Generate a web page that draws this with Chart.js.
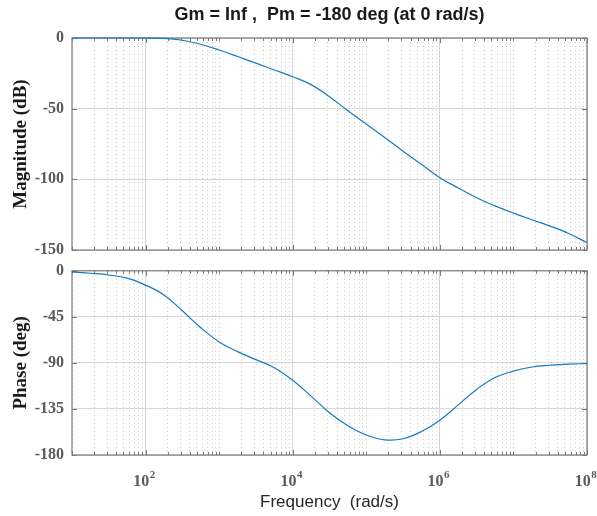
<!DOCTYPE html>
<html><head><meta charset="utf-8">
<script src="https://cdn.jsdelivr.net/npm/chart.js@4.4.1/dist/chart.umd.min.js"></script>
<style>
html,body{margin:0;padding:0;background:#fff;}
#wrap{position:relative;width:597px;height:516px;overflow:hidden;}
canvas{position:absolute;left:0;}
#c1{top:0}
#c2{top:262px}
</style></head><body>
<div id="wrap"><canvas id="c1" width="597" height="262"></canvas><canvas id="c2" width="597" height="254"></canvas></div>
<script>
// ---- data ----
const freq = [10, 17.8, 31.6, 56.2, 100, 178, 316, 562, 1000, 1780, 3160, 5620, 1e4, 1.78e4, 3.16e4, 5.62e4, 1e5, 1.78e5, 3.16e5, 5.62e5, 1e6, 1.78e6, 3.16e6, 5.62e6, 1e7, 1.78e7, 3.16e7, 5.62e7, 1e8];
const magDb = [0, 0, 0, 0, -0.05, -0.3, -1.6, -4.4, -8.5, -13.1, -17.8, -22.6, -27.4, -33, -41.5, -51.4, -60.9, -70.4, -80.1, -89.4, -98.8, -106.1, -113, -118.8, -123.9, -128.6, -133.1, -138.3, -144.7];
const phaseDeg = [-1, -2.4, -4.1, -7.2, -14, -23.6, -39, -55.6, -69.5, -79, -86.8, -94.7, -107, -122.5, -138.8, -151.4, -160.4, -165.2, -164.1, -157.1, -146, -131, -115.9, -104.3, -98, -94, -92.3, -91.1, -90.7];
const xMajorTicks = [1e2, 1e4, 1e6, 1e8];
const xTickExp = ['2', '4', '6', '8'];
const magTicks = [0, -50, -100, -150];
const phaseTicks = [0, -45, -90, -135, -180];
const titleText = 'Gm = Inf ,  Pm = -180 deg (at 0 rad/s)';
const magLabel = 'Magnitude (dB)';
const phaseLabel = 'Phase (deg)';
const freqLabel = 'Frequency  (rad/s)';

// log grid positions 10..1e8 (1..9 x each decade)
const xAllTicks = [];
for (let e = 1; e <= 7; e++) for (let m = 1; m <= 9; m++) xAllTicks.push(m * Math.pow(10, e));
xAllTicks.push(1e8);

const LINE = '#1479c2';
const SERIF = "'Liberation Serif','Times New Roman',serif";
const SANS = "'Liberation Sans',Arial,sans-serif";
const FRAME = '#7a7a7a';

function isMajor(v) { return xMajorTicks.some(t => Math.abs(t - v) / t < 1e-9); }

function xScale(showTitle) {
  return {
    type: 'logarithmic', min: 10, max: 1e8,
    afterBuildTicks: s => { s.ticks = xAllTicks.map(v => ({ value: v, major: isMajor(v) })); },
    afterFit: s => { s.height = showTitle ? 61 : 12; },
    ticks: { display: false, autoSkip: false },
    grid: {
      drawTicks: false, lineWidth: 1,
      color: c => (c.tick && c.tick.major) ? '#d6d6d6' : '#cacaca'
    },
    border: { display: false, dash: c => (c.tick && c.tick.major) ? [] : [1, 3] },
    title: showTitle ? { display: true, text: freqLabel, color: '#262626', font: { family: SANS, size: 17 }, padding: { top: 0, bottom: 3 } } : { display: false }
  };
}

function yScale(ticksArr, label) {
  return {
    min: ticksArr[ticksArr.length - 1], max: ticksArr[0],
    afterBuildTicks: s => { s.ticks = ticksArr.map(v => ({ value: v })); },
    afterFit: s => { s.width = 72; },
    ticks: { color: '#5a5a5a', padding: 8, font: { family: SERIF, size: 16, weight: 'bold', lineHeight: 0.1 }, autoSkip: false },
    grid: { drawTicks: false, color: '#d9d9d9', lineWidth: 1 },
    border: { display: false },
    title: { display: true, text: label, color: '#1a1a1a', font: { family: SERIF, size: 19, weight: 'bold' }, padding: { top: 10, bottom: 0 } }
  };
}

const framePlugin = {
  id: 'frame',
  beforeDatasetsDraw(chart) {
    const { ctx, chartArea: a, scales } = chart;
    ctx.save();
    ctx.strokeStyle = FRAME;
    ctx.lineWidth = 1.2;
    ctx.strokeRect(a.left, a.top, a.right - a.left, a.bottom - a.top);
    ctx.lineWidth = 1;
    ctx.beginPath();
    xAllTicks.forEach(v => {
      const x = Math.round(scales.x.getPixelForValue(v)) + 0.5;
      const L = isMajor(v) ? 5 : 3;
      ctx.moveTo(x, a.bottom); ctx.lineTo(x, a.bottom - L);
      ctx.moveTo(x, a.top); ctx.lineTo(x, a.top + L);
    });
    scales.y.ticks.forEach(t => {
      const y = Math.round(scales.y.getPixelForValue(t.value)) + 0.5;
      ctx.moveTo(a.left, y); ctx.lineTo(a.left + 5, y);
      ctx.moveTo(a.right, y); ctx.lineTo(a.right - 5, y);
    });
    ctx.stroke();
    ctx.restore();
  }
};

const xLabelPlugin = {
  id: 'xlabels',
  afterDraw(chart) {
    const { ctx, chartArea: a, scales } = chart;
    ctx.save();
    ctx.fillStyle = '#5a5a5a';
    ctx.textBaseline = 'alphabetic';
    ctx.textAlign = 'left';
    xMajorTicks.forEach((v, i) => {
      const x = scales.x.getPixelForValue(v);
      ctx.font = 'bold 16px ' + SERIF;
      const wb = ctx.measureText('10').width;
      ctx.font = 'bold 11px ' + SERIF;
      const we = ctx.measureText(xTickExp[i]).width;
      const x0 = x - (wb + we) / 2 - 1.5;
      const base = a.bottom + 31;
      ctx.font = 'bold 16px ' + SERIF;
      ctx.fillText('10', x0, base);
      ctx.font = 'bold 11px ' + SERIF;
      ctx.fillText(xTickExp[i], x0 + wb + 0.5, base - 8);
    });
    ctx.restore();
  }
};

Chart.defaults.animation = false;

new Chart(document.getElementById('c1'), {
  type: 'line',
  data: { datasets: [{ data: freq.map((f, i) => ({ x: f, y: magDb[i] })), borderColor: LINE, borderWidth: 1.2, pointRadius: 0, tension: 0.4, fill: false, clip: 2 }] },
  options: {
    responsive: false, devicePixelRatio: 1, animation: false,
    layout: { padding: { left: 0, right: 10, top: 0, bottom: 0 } },
    plugins: {
      legend: { display: false }, tooltip: { enabled: false },
      title: { display: true, fullSize: false, text: titleText, color: '#1a1a1a', font: { family: SANS, size: 18, weight: 'bold', lineHeight: 1.2 }, padding: { top: 4, bottom: 12.4 } }
    },
    scales: { x: xScale(false), y: yScale(magTicks, magLabel) }
  },
  plugins: [framePlugin]
});

new Chart(document.getElementById('c2'), {
  type: 'line',
  data: { datasets: [{ data: freq.map((f, i) => ({ x: f, y: phaseDeg[i] })), borderColor: LINE, borderWidth: 1.2, pointRadius: 0, tension: 0.4, fill: false, clip: 2 }] },
  options: {
    responsive: false, devicePixelRatio: 1, animation: false,
    layout: { padding: { left: 0, right: 10, top: 6, bottom: 0 } },
    plugins: { legend: { display: false }, tooltip: { enabled: false } },
    scales: { x: xScale(true), y: yScale(phaseTicks, phaseLabel) }
  },
  plugins: [framePlugin, xLabelPlugin]
});
</script>
</body></html>
